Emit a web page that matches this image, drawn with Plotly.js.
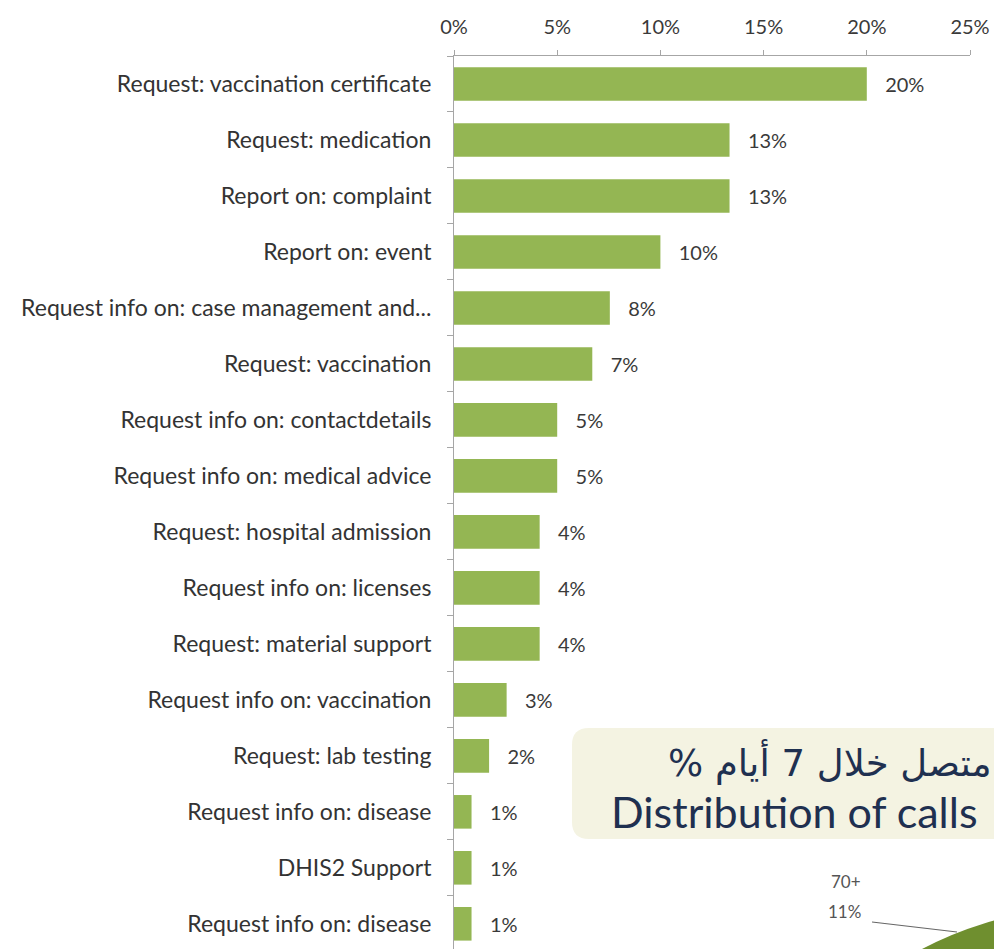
<!DOCTYPE html>
<html>
<head>
<meta charset="utf-8">
<script src="https://cdn.plot.ly/plotly-3.0.1.min.js"></script>
<style>
  html, body { margin: 0; padding: 0; background: #ffffff; }
  #chart { width: 994px; height: 949px; }
</style>
</head>
<body>
<div id="chart"></div>
<script>
// ---- data ----
const categories = [
  "Request: vaccination certificate",
  "Request: medication",
  "Report on: complaint",
  "Report on: event",
  "Request info on: case management and...",
  "Request: vaccination",
  "Request info on: contactdetails",
  "Request info on: medical advice",
  "Request: hospital admission",
  "Request info on: licenses",
  "Request: material support",
  "Request info on: vaccination",
  "Request: lab testing",
  "Request info on: disease",
  "DHIS2 Support",
  "Request info on: disease\u200B"
];
const shares = [20.0, 13.35, 13.35, 10.0, 7.55, 6.7, 5.0, 5.0, 4.15, 4.15, 4.15, 2.55, 1.7, 0.85, 0.85, 0.85];
const shareLabels = ["20%", "13%", "13%", "10%", "8%", "7%", "5%", "5%", "4%", "4%", "4%", "3%", "2%", "1%", "1%", "1%"];
const xTickValues = [0, 5, 10, 15, 20, 25];

const insetArabic = "متصل خلال 7 أيام %";
const insetEnglish = "Distribution of calls";
const pieGroup = "70+";
const pieShare = "11%";

const fontFam = "Lato, 'Open Sans', sans-serif";
const pad = "\u00A0\u00A0\u00A0";

const trace = {
  type: "bar",
  orientation: "h",
  y: categories,
  x: shares,
  text: shareLabels.map(s => pad + s),
  textposition: "outside",
  cliponaxis: false,
  textfont: { family: fontFam, size: 20, color: "#3a3a3a" },
  marker: { color: "#94b653", line: { width: 0 } },
  hoverinfo: "none"
};

const W = 994, H = 949, ml = 454, mr = 24, mt = 56, mb = 0;
const pw = W - ml - mr, ph = H - mt - mb;
const px = v => (v - ml) / pw;
const py = v => (H - mb - v) / ph;

// rounded inset box (left corners rounded, right side runs off the page)
const bx0 = px(572), bx1 = px(1010), by0 = py(839), by1 = py(728);
const rx = 17 / pw, ry = 17 / ph;
const boxPath = `M ${bx0 + rx} ${by1} L ${bx1} ${by1} L ${bx1} ${by0} L ${bx0 + rx} ${by0} ` +
  `Q ${bx0} ${by0} ${bx0} ${by0 + ry} L ${bx0} ${by1 - ry} Q ${bx0} ${by1} ${bx0 + rx} ${by1} Z`;

const layout = {
  width: W, height: H,
  margin: { l: ml, r: mr, t: mt, b: mb, pad: 0 },
  paper_bgcolor: "#ffffff",
  plot_bgcolor: "rgba(0,0,0,0)",
  showlegend: false,
  bargap: 0.4,
  font: { family: fontFam, color: "#3a3a3a" },
  xaxis: {
    side: "top",
    range: [0, 25],
    tickvals: xTickValues,
    ticktext: xTickValues.map(v => v + "%"),
    ticks: "outside", ticklen: 5, tickcolor: "#a6a6a6",
    ticklabelstandoff: 8,
    showline: true, linecolor: "#a6a6a6", linewidth: 1,
    showgrid: false, zeroline: false,
    tickfont: { family: fontFam, size: 20, color: "#3a3a3a" }
  },
  yaxis: {
    type: "category",
    range: [15.45, -0.5],
    ticks: "outside", tickson: "boundaries", ticklen: 6, tickcolor: "#a6a6a6",
    showline: true, linecolor: "#a6a6a6", linewidth: 1,
    showgrid: false, zeroline: false,
    ticklabelstandoff: 17,
    tickfont: { family: fontFam, size: 23, color: "#333333" }
  },
  shapes: [
    { type: "path", xref: "paper", yref: "paper", layer: "below",
      path: boxPath, fillcolor: "#f4f3e2", line: { width: 0 } },
    { type: "circle", xref: "paper", yref: "paper", layer: "below",
      x0: px(742), x1: px(1422), y0: py(1589), y1: py(909),
      fillcolor: "#6f8f2f", line: { width: 0 } },
    { type: "line", xref: "paper", yref: "paper",
      x0: px(872), y0: py(922), x1: px(957), y1: py(932),
      line: { color: "#666666", width: 1.2 } }
  ],
  annotations: [
    { xref: "paper", yref: "paper", x: px(993), y: py(762), xanchor: "right", yanchor: "middle",
      text: "\u202B" + insetArabic + "\u202C", showarrow: false,
      font: { family: "'DejaVu Sans', sans-serif", size: 37, color: "#1f3050" } },
    { xref: "paper", yref: "paper", x: px(609), y: py(811), xanchor: "left", yanchor: "middle",
      text: insetEnglish, showarrow: false,
      font: { family: fontFam, size: 43, color: "#1f3050" } },
    { xref: "paper", yref: "paper", x: px(846), y: py(881), xanchor: "center", yanchor: "middle",
      text: pieGroup, showarrow: false,
      font: { family: fontFam, size: 17, color: "#555555" } },
    { xref: "paper", yref: "paper", x: px(844), y: py(911), xanchor: "center", yanchor: "middle",
      text: pieShare, showarrow: false,
      font: { family: fontFam, size: 17, color: "#555555" } }
  ]
};

Plotly.newPlot("chart", [trace], layout, { displayModeBar: false, staticPlot: true });
</script>
</body>
</html>
